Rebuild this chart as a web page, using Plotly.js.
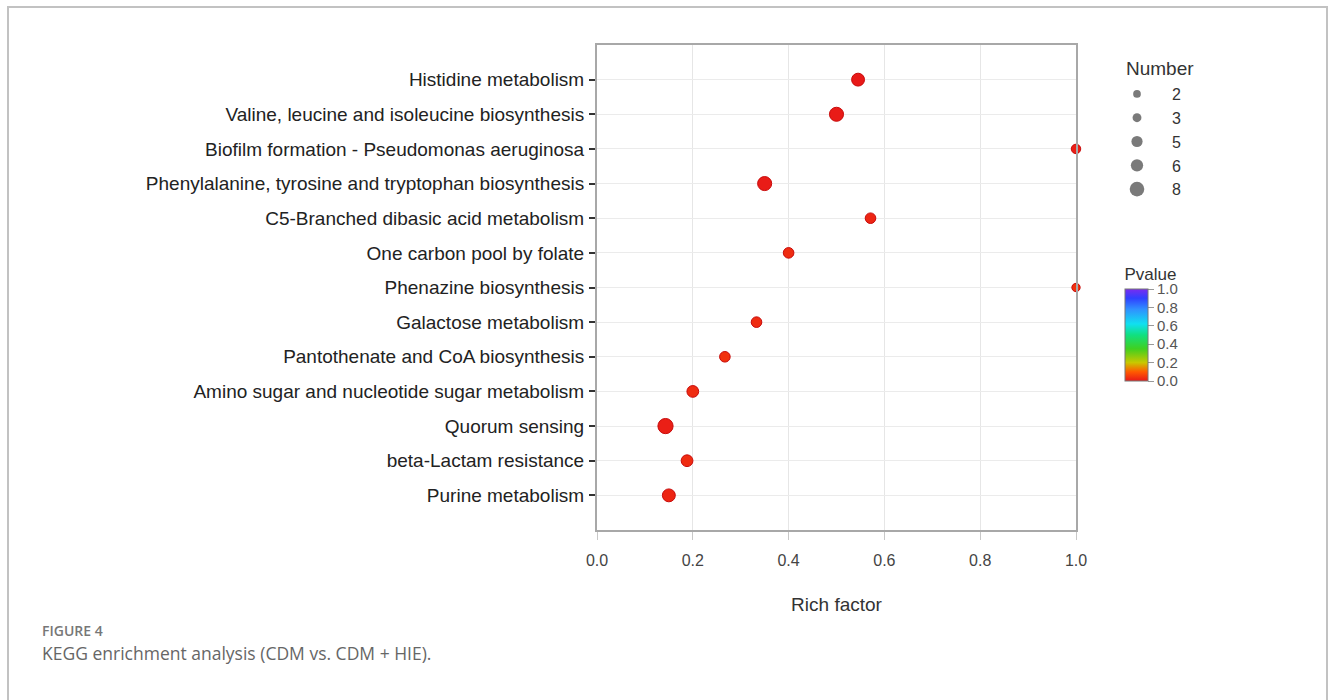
<!DOCTYPE html>
<html>
<head>
<meta charset="utf-8">
<script src="https://cdn.plot.ly/plotly-3.0.1.min.js"></script>
<style>
  html, body { margin: 0; padding: 0; background: #fff; }
  #wrap { position: relative; width: 1333px; height: 700px; overflow: hidden; }
  #frame { position: absolute; left: 7px; top: 6px; width: 1321px; height: 720px;
           border: 2px solid #c2c2c2; box-sizing: border-box; pointer-events: none; }
  #chart { position: absolute; left: 0; top: 0; width: 1333px; height: 700px; }
</style>
</head>
<body>
<div id="wrap">
  <div id="chart"></div>
  <div id="frame"></div>
</div>
<script>
// ---- data (top to bottom as drawn) ----
const pathways = [
  "Histidine metabolism",
  "Valine, leucine and isoleucine biosynthesis",
  "Biofilm formation - Pseudomonas aeruginosa",
  "Phenylalanine, tyrosine and tryptophan biosynthesis",
  "C5-Branched dibasic acid metabolism",
  "One carbon pool by folate",
  "Phenazine biosynthesis",
  "Galactose metabolism",
  "Pantothenate and CoA biosynthesis",
  "Amino sugar and nucleotide sugar metabolism",
  "Quorum sensing",
  "beta-Lactam resistance",
  "Purine metabolism"
];
const richFactor = [0.545, 0.5, 1.0, 0.35, 0.571, 0.4, 1.0, 0.333, 0.267, 0.2, 0.143, 0.188, 0.15];
const geneNumber = [6, 7, 3, 7, 4, 4, 2, 4, 4, 5, 8, 5, 6];
const pValue = [0.002, 0.004, 0.01, 0.006, 0.02, 0.03, 0.04, 0.03, 0.04, 0.03, 0.01, 0.03, 0.02];
const legendNumbers = [2, 3, 5, 6, 8];
const xTickVals = [0, 0.2, 0.4, 0.6, 0.8, 1.0];
const xTickText = ["0.0", "0.2", "0.4", "0.6", "0.8", "1.0"];
const pTickVals = [0, 0.2, 0.4, 0.6, 0.8, 1.0];
const pTickText = ["0.0", "0.2", "0.4", "0.6", "0.8", "1.0"];

// ---- styling ----
const sizeOf = n => 6 + 1.15 * n;
const rainbow = [
  [0.0, "#e81818"], [0.1, "#ff5a00"], [0.2, "#c8c800"], [0.35, "#40d020"],
  [0.5, "#10e080"], [0.62, "#10e0f0"], [0.78, "#3090ff"], [0.9, "#3040ff"], [1.0, "#7a2cf0"]
];
const FONT = "Liberation Sans, Arial, sans-serif";
const CAPFONT = "Open Sans, sans-serif";

// plot-area pixel geometry (used to place page-level text in paper units)
const L = 597, R = 1076, T = 45, B = 530;
const px2x = p => (p - L) / (R - L);
const px2y = p => (B - p) / (B - T);

const traces = [];
traces.push({
  type: "scatter", mode: "markers",
  x: richFactor, y: pathways,
  showlegend: false, cliponaxis: false, hoverinfo: "x+y",
  marker: {
    size: geneNumber.map(sizeOf), opacity: 1,
    color: pValue, cmin: 0, cmax: 1, colorscale: rainbow,
    line: { color: "#c80a0a", width: 1 },
    showscale: true,
    colorbar: {
      title: { text: "Pvalue", side: "top", font: { family: FONT, size: 17, color: "#333" } },
      x: px2x(1125), xanchor: "left",
      y: px2y(381), yanchor: "bottom",
      lenmode: "pixels", len: 116, thickness: 23,
      xpad: 0, ypad: 0,
      outlinecolor: "#777", outlinewidth: 1,
      ticks: "outside", ticklen: 6, tickcolor: "#999",
      tickvals: pTickVals, ticktext: pTickText,
      tickfont: { family: FONT, size: 15, color: "#555" }
    }
  }
});
legendNumbers.forEach(n => {
  traces.push({
    type: "scatter", mode: "markers",
    x: [null], y: [null], name: String(n), showlegend: true, hoverinfo: "skip",
    marker: { size: sizeOf(n) - 0.6, color: "#7a7a7a", opacity: 1 }
  });
});

const layout = {
  width: 1333, height: 700,
  paper_bgcolor: "#fff", plot_bgcolor: "#fff",
  margin: { l: L, r: 1333 - R, t: T, b: 700 - B, autoexpand: false },
  font: { family: FONT, color: "#222" },
  showlegend: true,
  legend: {
    xref: "container", yref: "container",
    x: 1102 / 1333, xanchor: "left",
    y: (700 - 77) / 700, yanchor: "top",
    font: { family: FONT, size: 16, color: "#333" },
    bgcolor: "rgba(0,0,0,0)", tracegroupgap: 0, itemwidth: 60
  },
  xaxis: {
    range: [0, 1], tickvals: xTickVals, ticktext: xTickText,
    showgrid: true, gridcolor: "#e6e6e6", gridwidth: 1,
    zeroline: false, automargin: false,
    showline: true, linecolor: "#a8a8a8", linewidth: 2, mirror: true,
    ticks: "outside", ticklen: 8, tickcolor: "#c8c8c8", tickwidth: 1,
    ticklabelstandoff: 7,
    tickfont: { family: FONT, size: 16, color: "#444" },
    title: { text: "Rich factor", font: { family: FONT, size: 19, color: "#333" }, standoff: 29 }
  },
  yaxis: {
    type: "category", automargin: false,
    categoryorder: "array", categoryarray: pathways.slice().reverse(),
    range: [-1, pathways.length],
    showgrid: true, gridcolor: "#ebebeb", gridwidth: 1,
    zeroline: false,
    showline: true, linecolor: "#a8a8a8", linewidth: 2, mirror: true,
    ticks: "outside", ticklen: 6, tickcolor: "#333", tickwidth: 2,
    ticklabelstandoff: 1,
    tickfont: { family: FONT, size: 19, color: "#222" }
  },
  annotations: [
    { xref: "paper", yref: "paper", x: px2x(1124), y: px2y(68), xanchor: "left", yanchor: "middle",
      text: "Number", showarrow: false,
      font: { family: FONT, size: 19, color: "#333" } },
    { xref: "paper", yref: "paper", x: px2x(40), y: px2y(630), xanchor: "left", yanchor: "middle",
      text: "FIGURE 4", showarrow: false,
      font: { family: CAPFONT, size: 14, color: "#777", weight: 600 } },
    { xref: "paper", yref: "paper", x: px2x(40), y: px2y(653), xanchor: "left", yanchor: "middle",
      text: "KEGG enrichment analysis (CDM vs. CDM + HIE).", showarrow: false,
      font: { family: CAPFONT, size: 17.5, color: "#666" } }
  ]
};

Plotly.newPlot("chart", traces, layout, { displayModeBar: false });
</script>
</body>
</html>
